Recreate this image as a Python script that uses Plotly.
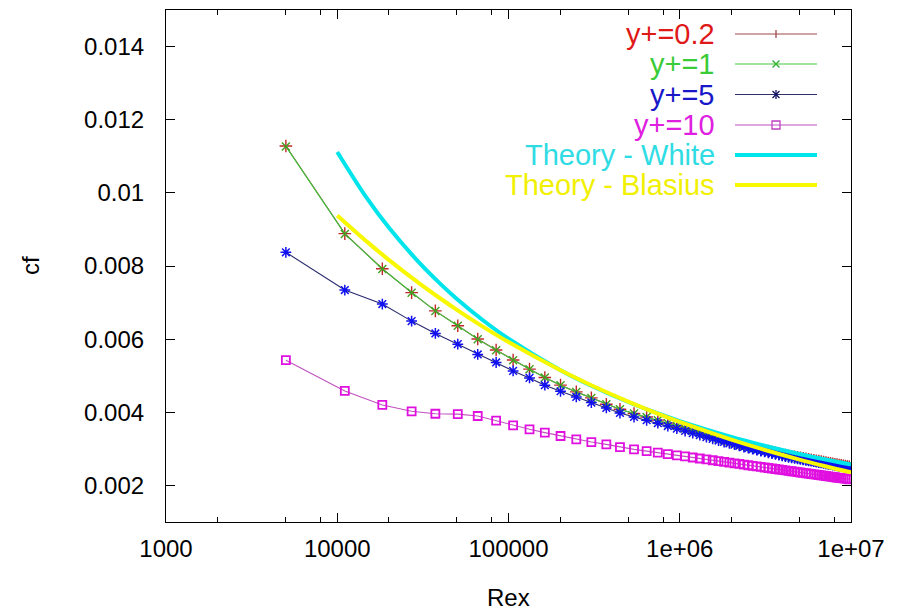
import plotly.graph_objects as go

# ---------------- data ----------------
rex = [5012, 11070, 18330, 27180, 37410, 50560, 66120, 84680, 106400, 132650,
       162990, 201300, 248800, 304600, 372600, 447600, 540700, 640700, 744700, 851700,
       961700, 1074700, 1190700, 1309700, 1431700, 1556700, 1684700, 1815700, 1949700, 2086700,
       2226700, 2369700, 2515700, 2664700, 2816700, 2971700, 3129700, 3290700, 3454700, 3621700,
       3791700, 3964700, 4140700, 4319700, 4501700, 4686700, 4874700, 5065700, 5259700, 5456700,
       5656700, 5859700, 6065700, 6274700, 6486700, 6701700, 6919700, 7140700, 7364700, 7591700,
       7821700, 8054700, 8290700, 8529700, 8771700, 9016700, 9264700, 9515700, 9769700]

cf_yp02 = [0.01128, 0.008885, 0.007925, 0.007272, 0.006772, 0.006368, 0.006004, 0.005702, 0.005428, 0.005181,
           0.004953, 0.004742, 0.004558, 0.004394, 0.004221, 0.004084, 0.003966, 0.003872, 0.003786, 0.003703,
           0.003627, 0.003558, 0.003496, 0.003438, 0.003383, 0.003332, 0.003284, 0.003242, 0.003203, 0.003167,
           0.003133, 0.003100, 0.003069, 0.003039, 0.003012, 0.002987, 0.002962, 0.002940, 0.002916, 0.002895,
           0.002873, 0.002852, 0.002832, 0.002813, 0.002799, 0.002783, 0.002769, 0.002755, 0.002741, 0.002727,
           0.002714, 0.002701, 0.002688, 0.002675, 0.002664, 0.002651, 0.002639, 0.002627, 0.002615, 0.002603,
           0.002592, 0.002580, 0.002570, 0.002558, 0.002548, 0.002537, 0.002527, 0.002517, 0.002507]

cf_yp1 = [0.01127, 0.008877, 0.007918, 0.007268, 0.006767, 0.006364, 0.006000, 0.005699, 0.005425, 0.005178,
          0.004951, 0.004740, 0.004556, 0.004392, 0.004219, 0.004082, 0.003964, 0.003870, 0.003784, 0.003701,
          0.003625, 0.003556, 0.003494, 0.003436, 0.003381, 0.003330, 0.003282, 0.003240, 0.003201, 0.003165,
          0.003131, 0.003098, 0.003067, 0.003037, 0.003010, 0.002985, 0.002960, 0.002938, 0.002914, 0.002893,
          0.002871, 0.002850, 0.002830, 0.002811, 0.002797, 0.002781, 0.002767, 0.002753, 0.002739, 0.002725,
          0.002712, 0.002699, 0.002686, 0.002673, 0.002662, 0.002649, 0.002637, 0.002625, 0.002613, 0.002601,
          0.002590, 0.002578, 0.002568, 0.002556, 0.002546, 0.002535, 0.002525, 0.002515, 0.002505]

cf_yp5 = [0.008375, 0.007342, 0.006959, 0.006493, 0.006156, 0.005863, 0.005581, 0.005362, 0.005132, 0.004940,
          0.004740, 0.004575, 0.004419, 0.004266, 0.004118, 0.003981, 0.003871, 0.003782, 0.003701, 0.003623,
          0.003553, 0.003488, 0.003429, 0.003374, 0.003322, 0.003274, 0.003228, 0.003188, 0.003151, 0.003116,
          0.003083, 0.003051, 0.003021, 0.002991, 0.002965, 0.002940, 0.002916, 0.002894, 0.002871, 0.002850,
          0.002829, 0.002808, 0.002789, 0.002770, 0.002756, 0.002741, 0.002727, 0.002714, 0.002700, 0.002687,
          0.002674, 0.002662, 0.002649, 0.002637, 0.002626, 0.002614, 0.002602, 0.002591, 0.002579, 0.002568,
          0.002557, 0.002546, 0.002536, 0.002525, 0.002515, 0.002505, 0.002495, 0.002485, 0.002475]

cf_yp10 = [0.005425, 0.004584, 0.004200, 0.004027, 0.003960, 0.003950, 0.003899, 0.003770, 0.003644, 0.003534,
           0.003444, 0.003351, 0.003260, 0.003186, 0.003123, 0.003049, 0.002986, 0.002938, 0.002896, 0.002858,
           0.002823, 0.002792, 0.002763, 0.002736, 0.002711, 0.002688, 0.002665, 0.002644, 0.002624, 0.002605,
           0.002587, 0.002569, 0.002552, 0.002536, 0.002520, 0.002505, 0.002490, 0.002476, 0.002463, 0.002449,
           0.002436, 0.002424, 0.002411, 0.002399, 0.002388, 0.002376, 0.002365, 0.002354, 0.002344, 0.002333,
           0.002323, 0.002313, 0.002304, 0.002294, 0.002285, 0.002275, 0.002266, 0.002258, 0.002249, 0.002240,
           0.002232, 0.002224, 0.002215, 0.002207, 0.002199, 0.002192, 0.002184, 0.002177, 0.002169]

rex_theory = [10000, 15000, 20000, 30000, 40000, 50000, 70000, 100000, 200000, 300000,
              500000, 700000, 1000000, 2000000, 3000000, 5000000, 7000000, 10000000]
cf_white = [0.011119, 0.009833, 0.009051, 0.008099, 0.007511, 0.007098, 0.006537, 0.006012, 0.005157, 0.004740,
            0.004281, 0.004015, 0.003759, 0.003327, 0.003107, 0.002861, 0.002714, 0.002570]
cf_blasius = [0.009383, 0.008653, 0.008168, 0.007532, 0.007111, 0.006801, 0.006357, 0.005920, 0.005154, 0.004752,
              0.004291, 0.004011, 0.003735, 0.003252, 0.002998, 0.002707, 0.002531, 0.002357]

x_tickvals = [1000, 10000, 100000, 1000000, 10000000]
x_ticktext = ["1000", "10000", "100000", "1e+06", "1e+07"]
x_minor = [2000, 5000, 8000, 20000, 50000, 80000, 200000, 500000, 800000, 2000000, 5000000, 8000000]
y_tickvals = [0.002, 0.004, 0.006, 0.008, 0.010, 0.012, 0.014]
y_ticktext = ["0.002", "0.004", "0.006", "0.008", "0.01", "0.012", "0.014"]

legend_labels = ["y+=0.2", "y+=1", "y+=5", "y+=10", "Theory - White", "Theory - Blasius"]

# ---------------- figure ----------------
FONT = "Liberation Sans, Arial, Helvetica, sans-serif"
fig = go.Figure()

series = [
    (cf_yp02, "#a23c3c", "cross-thin-open", "#c02828", 9, 1.4),
    (cf_yp1, "#3cc83c", "x-thin-open", "#40a020", 8, 1.4),
    (cf_yp5, "#2a2a70", "asterisk-open", "#1010f0", 9, 1.5),
    (cf_yp10, "#c050c0", "square-open", "#e010e0", 8, 1.8),
]
for ys, lc, sym, mc, ms, mw in series:
    fig.add_trace(go.Scatter(
        x=rex, y=ys, mode="lines+markers", showlegend=False,
        line=dict(color=lc, width=1.1),
        marker=dict(symbol=sym, size=ms, color=mc, line=dict(color=mc, width=mw)),
    ))

fig.add_trace(go.Scatter(x=rex_theory, y=cf_white, mode="lines", showlegend=False,
                         line=dict(color="#00e4ec", width=4, shape="spline")))
fig.add_trace(go.Scatter(x=rex_theory, y=cf_blasius, mode="lines", showlegend=False,
                         line=dict(color="#f8f800", width=4, shape="spline")))

L, R, T, B = 166, 48, 10, 89
W, H = 899, 611
pw, ph = W - L - R, H - T - B

def px_x(p):
    return (p - L) / pw

def px_y(p):
    return (H - B - p) / ph

# custom gnuplot-style key
text_colors = ["#e01818", "#38cc38", "#1818c8", "#e020e0", "#30dce4", "#f0f000"]
line_colors = ["#a04848", "#40c840", "#303070", "#c050c0", "#00e4ec", "#f8f800"]
row_y = [34, 64, 94.5, 125, 155, 185]
shapes = []
annotations = []
for i, lab in enumerate(legend_labels):
    yp = px_y(row_y[i])
    annotations.append(dict(x=px_x(717), y=yp, xref="paper", yref="paper", text=lab,
                            showarrow=False, xanchor="right", yanchor="middle",
                            font=dict(family=FONT, size=29, color=text_colors[i])))
    shapes.append(dict(type="line", xref="paper", yref="paper", x0=px_x(735), x1=px_x(817),
                       y0=yp, y1=yp, line=dict(color=line_colors[i], width=4 if i >= 4 else 1.2)))
    mx = px_x(776)
    mcol = ["#a04848", "#30b030", "#101060", "#c040c0"]
    if i == 0:
        segs = [(0, -4, 0, 4)]
    elif i == 1:
        segs = [(-3.5, -3.5, 3.5, 3.5), (-3.5, 3.5, 3.5, -3.5)]
    elif i == 2:
        segs = [(-3.5, -3.5, 3.5, 3.5), (-3.5, 3.5, 3.5, -3.5), (0, -4.5, 0, 4.5)]
    else:
        segs = []
    for (a, b, c, d) in segs:
        shapes.append(dict(type="line", xref="paper", yref="paper",
                           xsizemode="pixel", ysizemode="pixel", xanchor=mx, yanchor=yp,
                           x0=a, y0=b, x1=c, y1=d, line=dict(color=mcol[i], width=1.3)))
    if i == 3:
        shapes.append(dict(type="rect", xref="paper", yref="paper",
                           xsizemode="pixel", ysizemode="pixel", xanchor=mx, yanchor=yp,
                           x0=-4, y0=-4, x1=4, y1=4, line=dict(color=mcol[i], width=1.3)))

annotations.append(dict(x=px_x(30), y=px_y(266), xref="paper", yref="paper", text="cf",
                        textangle=-90, showarrow=False, xanchor="center", yanchor="middle",
                        font=dict(family=FONT, size=24, color="black")))
annotations.append(dict(x=px_x(508), y=px_y(597), xref="paper", yref="paper", text="Rex",
                        showarrow=False, xanchor="center", yanchor="middle",
                        font=dict(family=FONT, size=24, color="black")))

fig.update_layout(
    width=W, height=H, margin=dict(l=L, r=R, t=T, b=B, pad=0),
    paper_bgcolor="white", plot_bgcolor="white",
    font=dict(family=FONT, size=24, color="black"),
    shapes=shapes, annotations=annotations, showlegend=False,
)
fig.update_xaxes(type="log", range=[3, 7], tickmode="array", tickvals=x_tickvals, ticktext=x_ticktext,
                 ticks="inside", ticklen=9, tickwidth=1, tickcolor="black",
                 showline=True, linecolor="black", linewidth=1.2, mirror="ticks",
                 showgrid=False, zeroline=False, ticklabelstandoff=5,
                 minor=dict(tickmode="array", tickvals=x_minor, ticks="inside", ticklen=5,
                            tickcolor="black", tickwidth=1, showgrid=False))
fig.update_yaxes(range=[0.001, 0.015], tickmode="array", tickvals=y_tickvals, ticktext=y_ticktext,
                 ticks="inside", ticklen=9, tickwidth=1, tickcolor="black",
                 showline=True, linecolor="black", linewidth=1.2, mirror="ticks",
                 showgrid=False, zeroline=False, ticklabelstandoff=16)

fig.write_html("out.html")
